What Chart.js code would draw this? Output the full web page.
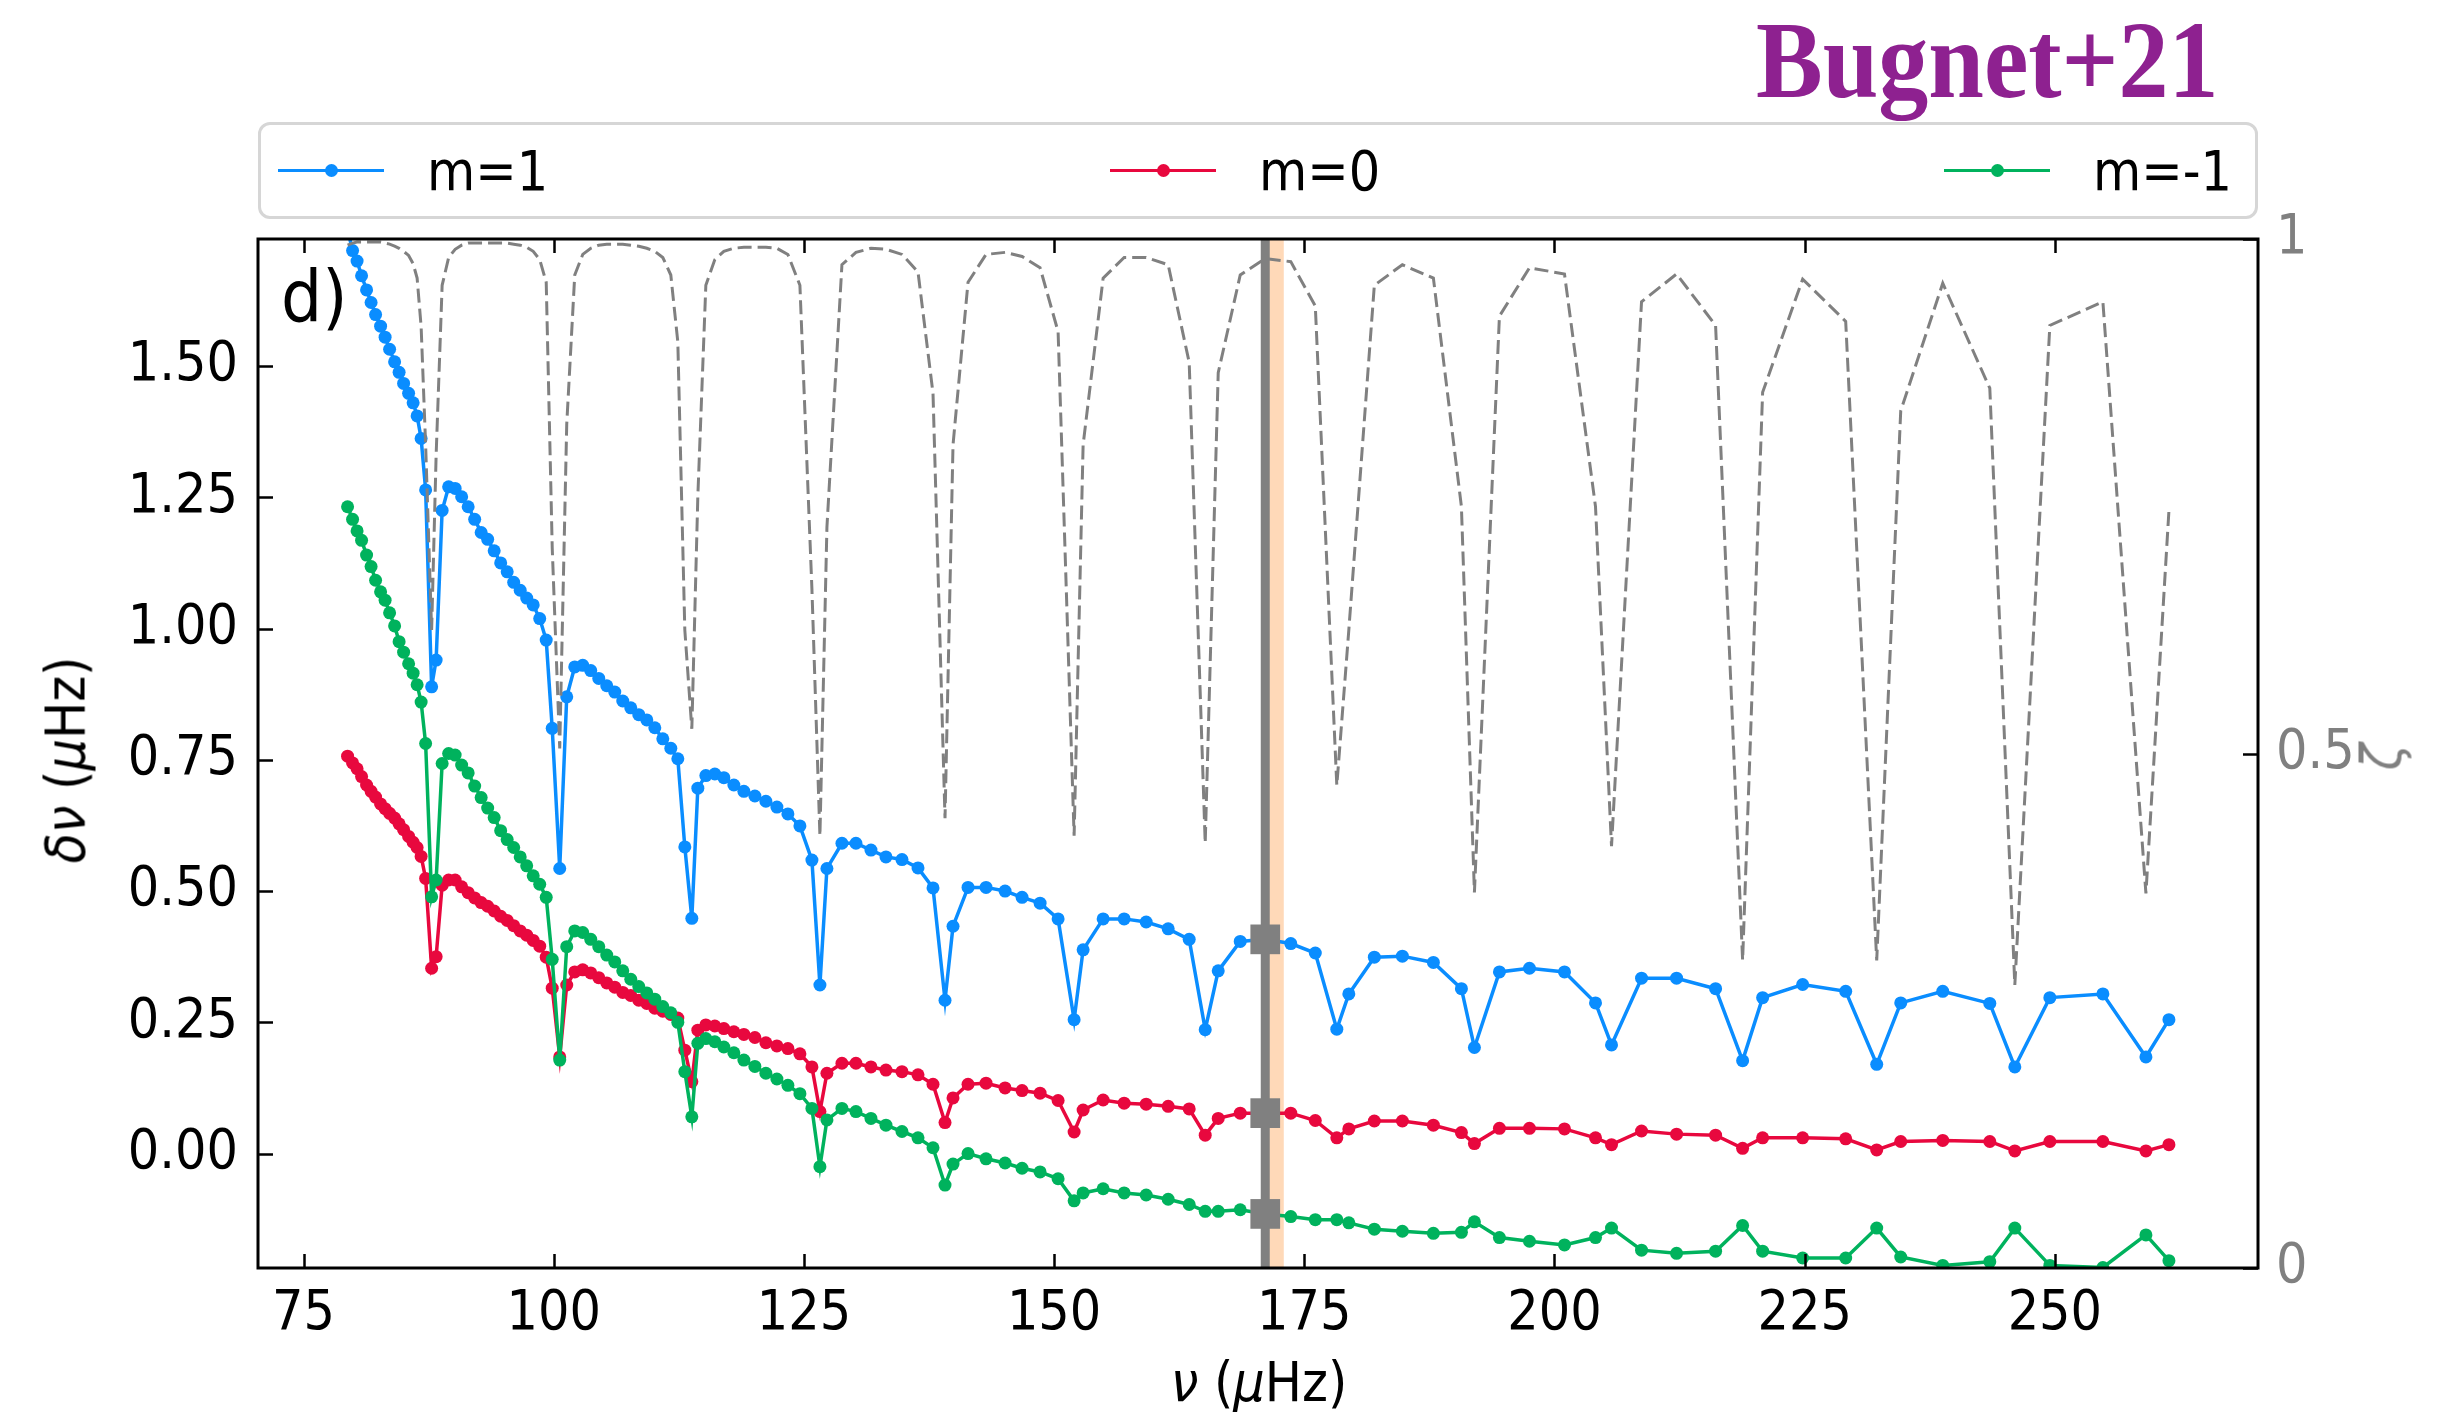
<!DOCTYPE html>
<html>
<head>
<meta charset="utf-8">
<script src="https://cdn.jsdelivr.net/npm/chart.js@4.4.1/dist/chart.umd.min.js"></script>
<style>
  html, body { margin: 0; padding: 0; background: #fff; }
  #wrap { position: relative; width: 2449px; height: 1417px; font-family: "DejaVu Sans Condensed", "DejaVu Sans", sans-serif; overflow: hidden; }
  #chart { position: absolute; left: 0; top: 0; }
  .lbl { position: absolute; white-space: nowrap; line-height: 1; }
  .center { transform: translate(-50%, -50%); }
  .rot { transform: translate(-50%, -50%) rotate(-90deg); }
  #brand { left: 1756px; top: 6px; font-family: "Liberation Serif", serif; font-weight: bold; font-size: 100px; color: #8e2190;
           transform-origin: 0 0; transform: scale(1.0, 1.1); }
  #legend { position: absolute; left: 258px; top: 122px; width: 2000px; height: 97px; box-sizing: border-box;
            border: 3px solid #d6d6d6; border-radius: 12px; background: #fff; }
  .litem { position: absolute; top: 0; height: 91px; display: flex; align-items: center; }
  .lline { position: relative; display: inline-block; width: 106px; height: 3px; }
  .ldot { position: absolute; left: 47px; top: -5px; width: 13px; height: 13px; border-radius: 50%; }
  .ltext { margin-left: 43px; font-size: 55px; color: #000; }
  #panel { left: 281px; top: 260px; font-size: 72px; }
  #ylab, #xlab, #zlab { font-size: 55px; }
  #zlab { color: #808080; }
</style>
</head>
<body>
<div id="wrap">
  <canvas id="chart" width="2449" height="1417"></canvas>
  <div id="brand" class="lbl">Bugnet+21</div>
  <div id="legend"></div>
  <div id="panel" class="lbl">d)</div>
  <div id="ylab" class="lbl rot" style="left:66px; top:760px;"><i>δν</i> (<i>μ</i>Hz)</div>
  <div id="xlab" class="lbl center" style="left:1259px; top:1382px;"><i>ν</i> (<i>μ</i>Hz)</div>
  <div id="zlab" class="lbl rot" style="left:2382px; top:757px;"><i>ζ</i></div>
</div>
<script>
// ---------- data ----------
const freq = [
  79.4, 79.9, 80.35, 80.8, 81.3, 81.75, 82.2, 82.7, 83.15, 83.6, 84.1, 84.55, 85.0, 85.5, 85.95, 86.35, 86.75, 87.2, 87.8, 88.25,
  88.85, 89.5, 90.15, 90.8, 91.45, 92.1, 92.75, 93.4, 94.05, 94.7, 95.35, 96.0, 96.65, 97.3, 97.95, 98.6, 99.25, 99.85,
  100.6,
  101.3, 102.1, 102.9, 103.7, 104.5, 105.3, 106.1, 106.9, 107.7, 108.5, 109.3, 110.1, 110.9, 111.7, 112.4, 113.1, 113.8,
  114.4, 115.2, 116.1, 117.0, 118.0, 119.0, 120.1, 121.2, 122.3, 123.4, 124.6, 125.8, 126.6,
  127.3, 128.8, 130.2, 131.7, 133.2, 134.8, 136.4, 137.9, 139.1,
  139.9, 141.4, 143.2, 145.1, 146.8, 148.6, 150.4, 152.0,
  152.9, 154.9, 157.0, 159.2, 161.4, 163.5, 165.1,
  166.4, 168.6, 171.1, 173.65, 176.1, 178.25,
  179.45, 182.0, 184.8, 187.9, 190.7, 192.0,
  194.5, 197.5, 201.0, 204.1, 205.7,
  208.7, 212.2, 216.1, 218.8,
  220.8, 224.8, 229.1, 232.2,
  234.6, 238.8, 243.5, 246.0,
  249.5, 254.8, 259.1, 261.4
];

// m = 1 splitting (muHz)
const splitM1 = [
  1.76, 1.72, 1.70, 1.672, 1.645, 1.621, 1.598, 1.576, 1.555, 1.532, 1.508, 1.488, 1.467, 1.448, 1.430, 1.405, 1.362, 1.264, 0.889, 0.94,
  1.225, 1.270, 1.267, 1.251, 1.232, 1.208, 1.183, 1.170, 1.148, 1.125, 1.108, 1.088, 1.073, 1.058, 1.045, 1.019, 0.978, 0.81,
  0.543,
  0.870, 0.927, 0.930, 0.920, 0.905, 0.891, 0.879, 0.862, 0.849, 0.836, 0.826, 0.811, 0.790, 0.772, 0.752, 0.584, 0.448,
  0.696, 0.720, 0.723, 0.716, 0.702, 0.690, 0.681, 0.671, 0.660, 0.647, 0.624, 0.559, 0.321,
  0.543, 0.591, 0.591, 0.578, 0.565, 0.560, 0.544, 0.506, 0.292,
  0.433, 0.507, 0.507, 0.500, 0.488, 0.477, 0.447, 0.255,
  0.388, 0.447, 0.447, 0.441, 0.428, 0.408, 0.236,
  0.348, 0.404, 0.408, 0.400, 0.382, 0.237,
  0.304, 0.374, 0.376, 0.364, 0.314, 0.202,
  0.346, 0.353, 0.346, 0.287, 0.207,
  0.334, 0.334, 0.314, 0.177,
  0.297, 0.322, 0.309, 0.170,
  0.287, 0.309, 0.286, 0.165,
  0.297, 0.304, 0.184, 0.255
];

// m = 0
const splitM0 = [
  0.757, 0.744, 0.733, 0.718, 0.702, 0.690, 0.679, 0.666, 0.657, 0.648, 0.639, 0.628, 0.617, 0.604, 0.593, 0.583, 0.566, 0.524, 0.353, 0.375,
  0.511, 0.521, 0.521, 0.508, 0.497, 0.487, 0.478, 0.471, 0.462, 0.452, 0.444, 0.434, 0.424, 0.416, 0.406, 0.395, 0.374, 0.315,
  0.184,
  0.321, 0.346, 0.350, 0.344, 0.335, 0.325, 0.317, 0.307, 0.301, 0.292, 0.286, 0.277, 0.271, 0.265, 0.258, 0.197, 0.137,
  0.235, 0.245, 0.243, 0.238, 0.232, 0.227, 0.221, 0.211, 0.205, 0.200, 0.190, 0.165, 0.080,
  0.153, 0.172, 0.172, 0.165, 0.159, 0.156, 0.150, 0.132, 0.059,
  0.106, 0.132, 0.134, 0.125, 0.120, 0.115, 0.101, 0.041,
  0.083, 0.102, 0.096, 0.094, 0.090, 0.085, 0.035,
  0.067, 0.077, 0.077, 0.077, 0.063, 0.030,
  0.047, 0.062, 0.062, 0.054, 0.040, 0.019,
  0.048, 0.048, 0.047, 0.030, 0.017,
  0.043, 0.037, 0.035, 0.010,
  0.030, 0.030, 0.028, 0.007,
  0.023, 0.025, 0.023, 0.005,
  0.023, 0.023, 0.005, 0.017
];

// m = -1
const splitMm1 = [
  1.232, 1.208, 1.186, 1.168, 1.140, 1.118, 1.092, 1.070, 1.054, 1.030, 1.005, 0.975, 0.955, 0.933, 0.915, 0.893, 0.860, 0.781, 0.489, 0.521,
  0.743, 0.762, 0.759, 0.740, 0.725, 0.700, 0.678, 0.658, 0.640, 0.615, 0.598, 0.583, 0.565, 0.548, 0.529, 0.513, 0.488, 0.370,
  0.178,
  0.394, 0.424, 0.421, 0.408, 0.394, 0.378, 0.365, 0.348, 0.332, 0.318, 0.306, 0.294, 0.280, 0.268, 0.250, 0.156, 0.070,
  0.210, 0.219, 0.213, 0.203, 0.192, 0.178, 0.166, 0.153, 0.142, 0.130, 0.114, 0.086, -0.025,
  0.064, 0.086, 0.080, 0.067, 0.054, 0.042, 0.030, 0.011, -0.060,
  -0.020, 0.000, -0.010, -0.018, -0.028, -0.035, -0.048, -0.090,
  -0.075, -0.067, -0.075, -0.079, -0.087, -0.097, -0.110,
  -0.110, -0.107, -0.115, -0.120, -0.126, -0.126,
  -0.132, -0.144, -0.148, -0.152, -0.150, -0.130,
  -0.160, -0.167, -0.174, -0.160, -0.142,
  -0.184, -0.190, -0.186, -0.137,
  -0.186, -0.199, -0.199, -0.142,
  -0.197, -0.213, -0.206, -0.142,
  -0.213, -0.217, -0.155, -0.204
];

// zeta (right axis), same frequencies
const zeta = [
  0.994, 0.996, 0.997, 0.997, 0.997, 0.997, 0.997, 0.997, 0.996, 0.995, 0.993, 0.991, 0.988, 0.984, 0.976, 0.962, 0.915, 0.80, 0.62, 0.79,
  0.955, 0.982, 0.990, 0.994, 0.996, 0.996, 0.996, 0.996, 0.996, 0.996, 0.996, 0.995, 0.994, 0.992, 0.988, 0.980, 0.958, 0.70,
  0.505,
  0.82, 0.965, 0.985, 0.991, 0.994, 0.995, 0.995, 0.995, 0.994, 0.993, 0.991, 0.988, 0.982, 0.965, 0.90, 0.62, 0.524,
  0.75, 0.955, 0.98, 0.988, 0.991, 0.992, 0.992, 0.992, 0.991, 0.985, 0.955, 0.66, 0.42,
  0.72, 0.975, 0.987, 0.991, 0.990, 0.985, 0.968, 0.85, 0.437,
  0.80, 0.958, 0.985, 0.987, 0.983, 0.972, 0.91, 0.42,
  0.80, 0.962, 0.982, 0.982, 0.975, 0.88, 0.413,
  0.87, 0.965, 0.981, 0.978, 0.935, 0.469,
  0.62, 0.955, 0.975, 0.962, 0.74, 0.365,
  0.925, 0.972, 0.966, 0.74, 0.41,
  0.939, 0.966, 0.916, 0.299,
  0.851, 0.961, 0.92, 0.299,
  0.833, 0.957, 0.855, 0.275,
  0.916, 0.939, 0.364, 0.736
];

const seriesLabels = ['m=1', 'm=0', 'm=-1'];
const seriesColors = ['#0a8dff', '#e8083e', '#00b25d'];

const markFreq = 171.1;            // mode highlighted by the grey line / squares
const bandRange = [171.0, 172.95]; // shaded interval

const xTicks = [75, 100, 125, 150, 175, 200, 225, 250];
const yTicks = [0, 0.25, 0.5, 0.75, 1.0, 1.25, 1.5];
const zetaTicks = [0, 0.5, 1];
const zetaTickLabels = ['0', '0.5', '1'];

// ---------- helpers ----------
const toPts = (ys) => freq.map((x, i) => ({ x: x, y: ys[i] }));
const markIdx = freq.indexOf(markFreq);

// legend (html)
const legendX = [278, 1110, 1944];
const legendEl = document.getElementById('legend');
seriesLabels.forEach((name, i) => {
  const item = document.createElement('div');
  item.className = 'litem';
  item.style.left = (legendX[i] - 261) + 'px';
  item.innerHTML = '<span class="lline" style="background:' + seriesColors[i] + '">' +
    '<span class="ldot" style="background:' + seriesColors[i] + '"></span></span>' +
    '<span class="ltext">' + name + '</span>';
  legendEl.appendChild(item);
});

// band behind the data + frame and inward ticks on top
const framePlugin = {
  id: 'frame',
  beforeDatasetsDraw(chart) {
    const { ctx, chartArea: a, scales } = chart;
    const x0 = scales.x.getPixelForValue(bandRange[0]);
    const x1 = scales.x.getPixelForValue(bandRange[1]);
    ctx.save();
    ctx.fillStyle = '#ffd9b8';
    ctx.fillRect(x0, a.top, x1 - x0, a.bottom - a.top);
    ctx.restore();
  },
  afterDraw(chart) {
    const { ctx, chartArea: a, scales } = chart;
    ctx.save();
    ctx.strokeStyle = '#000';
    ctx.lineWidth = 2.5;
    ctx.beginPath();
    xTicks.forEach(v => {
      const px = Math.round(scales.x.getPixelForValue(v)) + 0.5;
      ctx.moveTo(px, a.bottom); ctx.lineTo(px, a.bottom - 14);
      ctx.moveTo(px, a.top); ctx.lineTo(px, a.top + 14);
    });
    yTicks.forEach(v => {
      const py = Math.round(scales.y.getPixelForValue(v)) + 0.5;
      ctx.moveTo(a.left, py); ctx.lineTo(a.left + 15, py);
    });
    zetaTicks.forEach(v => {
      const py = Math.round(scales.y2.getPixelForValue(v)) + 0.5;
      ctx.moveTo(a.right, py); ctx.lineTo(a.right - 15, py);
    });
    ctx.stroke();
    ctx.lineWidth = 3;
    ctx.strokeRect(a.left, a.top, a.right - a.left, a.bottom - a.top);
    ctx.restore();
  }
};

Chart.defaults.font.family = '"DejaVu Sans Condensed", "DejaVu Sans", sans-serif';
Chart.defaults.color = '#000';

const lineStyle = (color) => ({
  borderColor: color, backgroundColor: color,
  borderWidth: 3.5, pointRadius: 6.5, pointBorderWidth: 0, pointHoverRadius: 6.5,
  showLine: true, tension: 0, yAxisID: 'y'
});

new Chart(document.getElementById('chart'), {
  type: 'scatter',
  data: {
    datasets: [
      {
        label: 'zeta', data: toPts(zeta), yAxisID: 'y2', showLine: true,
        borderColor: '#808080', borderWidth: 3, borderDash: [14, 6], pointRadius: 0, order: 0
      },
      {
        label: 'mark', yAxisID: 'y', showLine: false, pointStyle: 'rect', pointRadius: 21,
        backgroundColor: '#808080', borderWidth: 0, order: 1,
        data: [splitM1, splitM0, splitMm1].map(s => ({ x: freq[markIdx], y: s[markIdx] }))
      },
      {
        label: 'vline', yAxisID: 'y2', showLine: true, pointRadius: 0,
        borderColor: '#808080', borderWidth: 9, order: 2,
        data: [{ x: freq[markIdx], y: 0 }, { x: freq[markIdx], y: 1 }]
      },
      Object.assign({ label: seriesLabels[2], data: toPts(splitMm1), order: 3 }, lineStyle(seriesColors[2])),
      Object.assign({ label: seriesLabels[1], data: toPts(splitM0), order: 4 }, lineStyle(seriesColors[1])),
      Object.assign({ label: seriesLabels[0], data: toPts(splitM1), order: 5 }, lineStyle(seriesColors[0]))
    ]
  },
  options: {
    responsive: false,
    animation: false,
    events: [],
    layout: { padding: { top: 239, left: 0, right: 0, bottom: 0 } },
    plugins: { legend: { display: false }, tooltip: { enabled: false } },
    scales: {
      x: {
        type: 'linear', position: 'bottom', min: 70.45, max: 270.3,
        grid: { display: false, drawTicks: false }, border: { display: false },
        afterBuildTicks: (s) => { s.ticks = xTicks.map(v => ({ value: v })); },
        afterFit: (s) => { s.height = 149; },
        ticks: { font: { size: 55 }, padding: 14, maxRotation: 0, autoSkip: false, callback: (v) => String(v) }
      },
      y: {
        type: 'linear', position: 'left', min: -0.218, max: 1.742,
        grid: { display: false, drawTicks: false }, border: { display: false },
        afterBuildTicks: (s) => { s.ticks = yTicks.map(v => ({ value: v })); },
        afterFit: (s) => { s.width = 258; },
        ticks: { font: { size: 55 }, padding: 20, autoSkip: false, callback: (v) => v.toFixed(2) }
      },
      y2: {
        type: 'linear', position: 'right', min: 0, max: 1,
        grid: { display: false, drawTicks: false }, border: { display: false },
        afterBuildTicks: (s) => { s.ticks = zetaTicks.map(v => ({ value: v })); },
        afterFit: (s) => { s.width = 191; },
        ticks: { font: { size: 55 }, padding: 18, color: '#808080', autoSkip: false,
                 callback: (v) => zetaTickLabels[zetaTicks.indexOf(v)] }
      }
    }
  },
  plugins: [framePlugin]
});
</script>
</body>
</html>
